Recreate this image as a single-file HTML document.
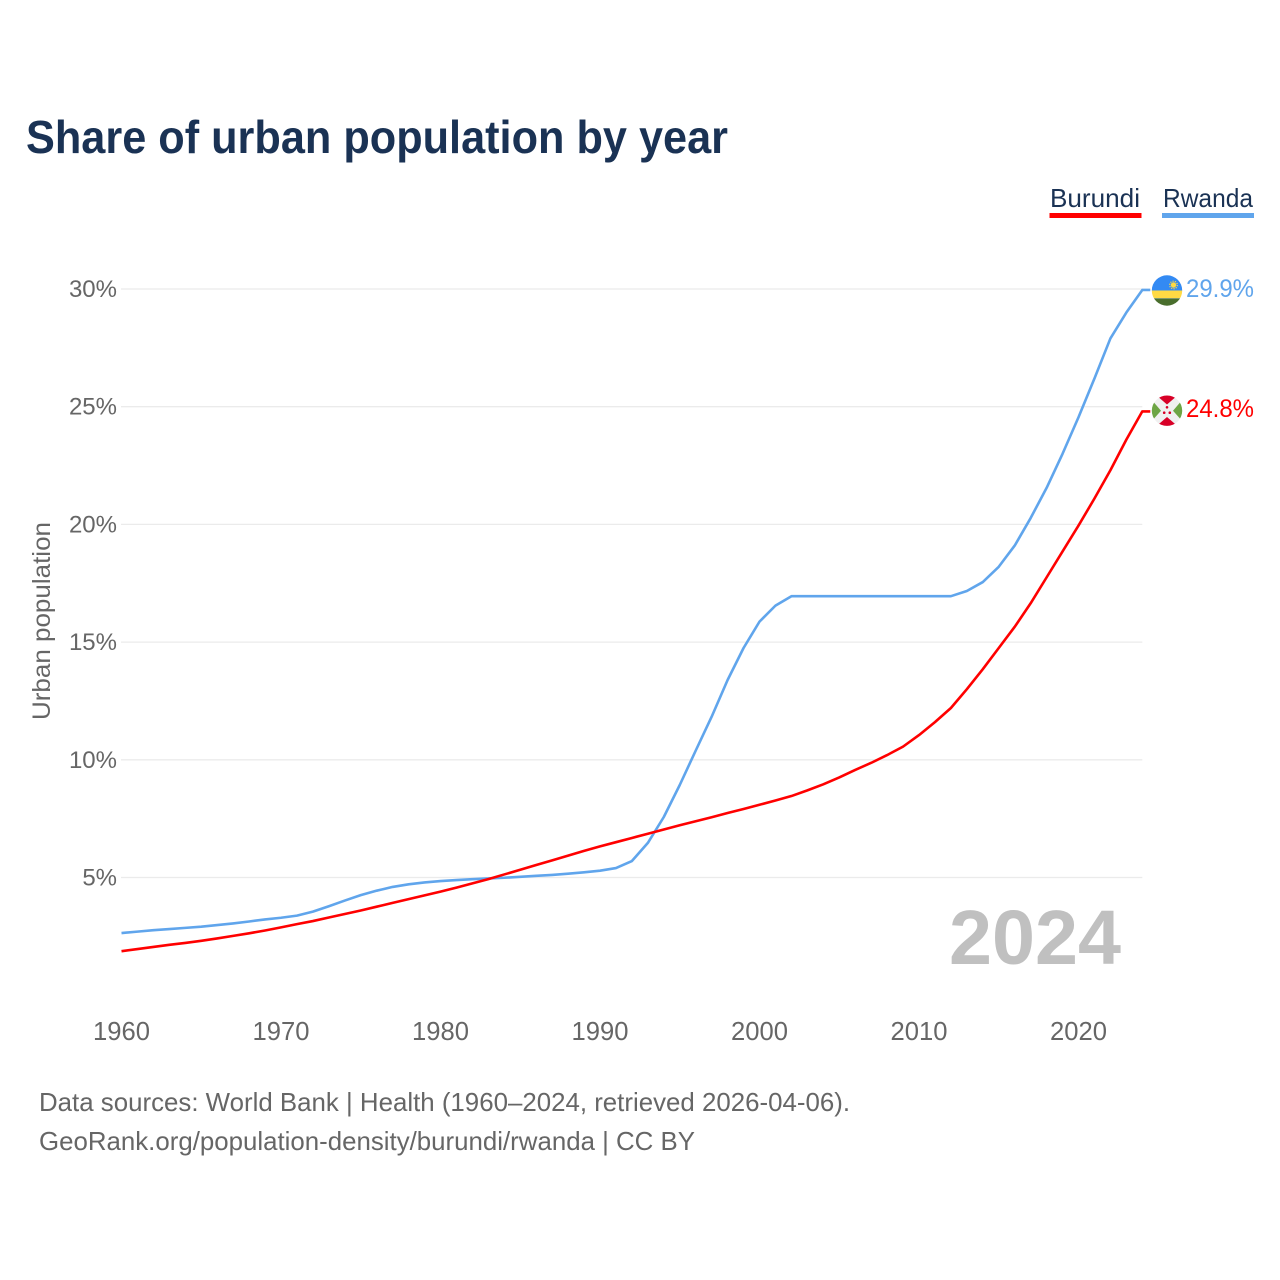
<!DOCTYPE html>
<html>
<head>
<meta charset="utf-8">
<title>Share of urban population by year</title>
<style>
html,body{margin:0;padding:0;background:#fff;}
svg{display:block;font-family:"Liberation Sans",sans-serif;}
</style>
</head>
<body>
<svg id="chart" width="1280" height="1280" viewBox="0 0 1280 1280" xmlns="http://www.w3.org/2000/svg">
  <text x="26" y="153" font-size="46" font-weight="bold" fill="#1a3254" textLength="702" lengthAdjust="spacingAndGlyphs">Share of urban population by year</text>

  <g>
    <text x="1050" y="207" font-size="26" fill="#1a3254" textLength="90" lengthAdjust="spacingAndGlyphs">Burundi</text>
    <rect x="1049.5" y="213" width="92" height="5" fill="#ff0000"/>
  </g>
  <g>
    <text x="1163" y="207" font-size="26" fill="#1a3254" textLength="90" lengthAdjust="spacingAndGlyphs">Rwanda</text>
    <rect x="1162" y="213" width="92" height="5" fill="#60a5ec"/>
  </g>

  <g id="grid"></g>
  <g id="yticks"></g>
  <g id="xticks"></g>

  <text transform="translate(50,621) rotate(-90)" text-anchor="middle" font-size="25" fill="#666666" textLength="198" lengthAdjust="spacingAndGlyphs">Urban population</text>

  <text x="1121" y="964" text-anchor="end" font-size="77" font-weight="bold" fill="#c0c0c0" textLength="172" lengthAdjust="spacingAndGlyphs">2024</text>

  <g id="series"></g>

  <defs>
    <clipPath id="clip-rw"><circle cx="1167" cy="290.5" r="15.2"/></clipPath>
    <clipPath id="clip-bi"><circle cx="1167" cy="410.7" r="15.2"/></clipPath>
  </defs>

  <g clip-path="url(#clip-rw)">
    <rect x="1151" y="275" width="32" height="15.5" fill="#338af3"/>
    <rect x="1151" y="290.5" width="32" height="7.5" fill="#ffda44"/>
    <rect x="1151" y="298.3" width="32" height="8" fill="#496e2d"/>
    <circle cx="1173.5" cy="285" r="2.7" fill="#ffda44"/>
    <circle cx="1173.5" cy="285" r="3.8" fill="none" stroke="#ffda44" stroke-width="1.2" stroke-dasharray="1.2 1.2"/>
  </g>
  <g clip-path="url(#clip-bi)">
    <rect x="1151" y="395" width="32" height="32" fill="#f0f0f0"/>
    <polygon points="1156,395 1178,395 1167,404.5" fill="#d80027"/>
    <polygon points="1156,426.5 1178,426.5 1167,417" fill="#d80027"/>
    <polygon points="1151,399 1151,422 1161,410.7" fill="#6da544"/>
    <polygon points="1183,399 1183,422 1173,410.7" fill="#6da544"/>
    <circle cx="1167" cy="407.3" r="1.3" fill="#d80027"/>
    <circle cx="1164.2" cy="412.7" r="1.3" fill="#d80027"/>
    <circle cx="1169.8" cy="412.7" r="1.3" fill="#d80027"/>
  </g>

  <text x="1186" y="297" font-size="25" fill="#60a5ec" textLength="68" lengthAdjust="spacingAndGlyphs">29.9%</text>
  <text x="1186" y="417" font-size="25" fill="#ff0000" textLength="68" lengthAdjust="spacingAndGlyphs">24.8%</text>

  <text x="39" y="1111" font-size="26" fill="#666666" textLength="811" lengthAdjust="spacingAndGlyphs">Data sources: World Bank | Health (1960–2024, retrieved 2026-04-06).</text>
  <text x="39" y="1150" font-size="26" fill="#666666" textLength="656" lengthAdjust="spacingAndGlyphs">GeoRank.org/population-density/burundi/rwanda | CC BY</text>
</svg>
<script>
const startYear = 1960;
const xTickYears = [1960, 1970, 1980, 1990, 2000, 2010, 2020];
const yTickValues = [5, 10, 15, 20, 25, 30];
const burundiValues = [1.87,1.96,2.05,2.14,2.22,2.31,2.41,2.52,2.63,2.75,2.88,3.02,3.15,3.30,3.45,3.60,3.76,3.92,4.08,4.24,4.40,4.57,4.75,4.93,5.13,5.33,5.53,5.73,5.93,6.13,6.32,6.50,6.68,6.86,7.04,7.22,7.39,7.56,7.74,7.91,8.09,8.27,8.46,8.70,8.96,9.25,9.57,9.87,10.20,10.56,11.05,11.60,12.20,13.00,13.85,14.75,15.65,16.65,17.75,18.85,19.95,21.10,22.30,23.60,24.80];
const rwandaValues = [2.64,2.70,2.76,2.81,2.86,2.91,2.98,3.05,3.13,3.22,3.29,3.38,3.55,3.78,4.02,4.25,4.44,4.60,4.71,4.79,4.85,4.89,4.93,4.96,4.99,5.03,5.07,5.11,5.16,5.22,5.29,5.40,5.70,6.47,7.57,8.93,10.39,11.83,13.39,14.75,15.87,16.55,16.95,16.95,16.95,16.95,16.95,16.95,16.95,16.95,16.95,16.95,16.95,17.17,17.55,18.20,19.10,20.27,21.55,23.00,24.55,26.20,27.90,29.00,29.96];

const NS = 'http://www.w3.org/2000/svg';
function xScale(year) { return 121.5 + (year - 1960) * 15.95; }
function yScale(value) { return 877.5 - (value - 5) * 23.54; }

const gridGroup = document.getElementById('grid');
const yTickGroup = document.getElementById('yticks');
const xTickGroup = document.getElementById('xticks');
const seriesGroup = document.getElementById('series');

yTickValues.forEach(function (v) {
  const line = document.createElementNS(NS, 'line');
  
  
  line.setAttribute('x1', 121);
  line.setAttribute('x2', xScale(2024));
  line.setAttribute('y1', yScale(v));
  line.setAttribute('y2', yScale(v));
  line.setAttribute('stroke', '#ebebeb');
  line.setAttribute('stroke-width', '1.3');
  gridGroup.appendChild(line);

  const label = document.createElementNS(NS, 'text');
  
  
  label.setAttribute('x', 117);
  label.setAttribute('y', yScale(v) + 8);
  label.setAttribute('text-anchor', 'end');
  label.setAttribute('font-size', '24');
  label.setAttribute('fill', '#666666');
  label.textContent = v + '%';
  yTickGroup.appendChild(label);
});

xTickYears.forEach(function (yr) {
  const label = document.createElementNS(NS, 'text');
  
  
  label.setAttribute('x', xScale(yr));
  label.setAttribute('y', 1040);
  label.setAttribute('text-anchor', 'middle');
  label.setAttribute('font-size', '25.6');
  label.setAttribute('fill', '#666666');
  label.textContent = yr;
  xTickGroup.appendChild(label);
});

function drawSeries(values, color, lineName) {
  const pts = values.map(function (v, i) {
    return xScale(startYear + i).toFixed(2) + ',' + yScale(v).toFixed(2);
  });
  const lastY = yScale(values[values.length - 1]).toFixed(2);
  pts.push((xScale(startYear + values.length - 1) + 8).toFixed(2) + ',' + lastY);
  const poly = document.createElementNS(NS, 'polyline');
  
  
  poly.setAttribute('points', pts.join(' '));
  poly.setAttribute('fill', 'none');
  poly.setAttribute('stroke', color);
  poly.setAttribute('stroke-width', '2.6');
  poly.setAttribute('stroke-linejoin', 'round');
  seriesGroup.appendChild(poly);
}
drawSeries(rwandaValues, '#60a5ec', 'rwanda-line');
drawSeries(burundiValues, '#ff0000', 'burundi-line');
</script>
</body>
</html>
